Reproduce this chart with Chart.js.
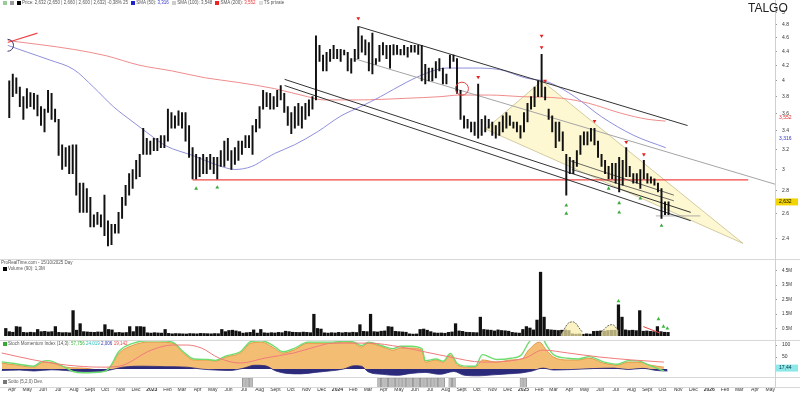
<!DOCTYPE html>
<html>
<head>
<meta charset="utf-8">
<script src="https://cdn.jsdelivr.net/npm/chart.js@4.4.1/dist/chart.umd.min.js"></script>
<style>
    html, body { margin: 0; padding: 0; background: #fff; }
    body { width: 800px; height: 394px; position: relative; overflow: hidden; font-family: "Liberation Sans", Arial, sans-serif; }
    .box { position: absolute; left: 0; width: 800px; }
    .txt { position: absolute; left: 1px; font-size: 4.5px; line-height: 6px; color: #555; white-space: nowrap; }
    .sq { display: inline-block; width: 4px; height: 4px; margin: 0 1px 0 2px; vertical-align: -0.5px; }
    .hl { position: absolute; left: 0; width: 800px; height: 1px; background: #d8d8d8; }
    .vl { position: absolute; left: 775px; top: 0; width: 1px; height: 388px; background: #d0d0d0; }
    #title { position: absolute; left: 748px; top: 1px; font-size: 12px; color: #222; }
</style>
</head>
<body>
<div class="box" style="top:0;height:258px"><canvas id="priceChart"></canvas></div>
<div class="box" style="top:260px;height:80px"><canvas id="volChart"></canvas></div>
<div class="box" style="top:340px;height:37px"><canvas id="oscChart"></canvas></div>
<div class="box" style="top:377px;height:17px"><canvas id="stripChart"></canvas></div>

<div class="hl" style="top:259px"></div>
<div class="hl" style="top:340px"></div>
<div class="hl" style="top:377px"></div>
<div class="hl" style="top:387px"></div>
<div class="vl"></div>

<div class="txt" style="top:0px"><span class="sq" style="background:#9c9"></span><span class="sq" style="background:#999"></span><span class="sq" style="background:#000"></span>Price: 2,632 (2,650 | 2,660 | 2,600 | 2,632) -0,38% 25 <span class="sq" style="background:#22c"></span>SMA (50): <span style="color:#33c">3,316</span> <span class="sq" style="background:#ccc"></span>SMA (100): 3,548 <span class="sq" style="background:#e22"></span>SMA (200): <span style="color:#e33">3,552</span> <span class="sq" style="background:#ddd"></span>TS private</div>
<div id="title">TALGO</div>
<div class="txt" style="top:260px">ProRealTime.com - 15/10/2025 Day</div>
<div class="txt" style="top:266px"><span class="sq" style="background:#000"></span>Volume (90): 1,3M</div>
<div class="txt" style="top:341px"><span class="sq" style="background:#3a3"></span>Stoch Momentum Index (14,3): <span style="color:#3b3">57,756</span> <span style="color:#2bb">24,019</span> <span style="color:#33a">2,006</span> <span style="color:#e44">19,142</span></div>
<div class="txt" style="top:379px"><span class="sq" style="background:#777"></span>Sotto (5,2,0) Dev.</div>

<script>
(function () {
    // weekly bars, first week starts 12 Mar 2022
    const firstWeek = new Date(2022, 2, 12);
    const monthNames = ['Jan', 'Feb', 'Mar', 'Apr', 'May', 'Jun', 'Jul', 'Aug', 'Sept', 'Oct', 'Nov', 'Dec'];
    const labelYears = [2022, 2023, 2024, 2025, 2026];

    const barHigh = [
        4.00, 4.09, 4.04, 3.92, 3.80, 3.90, 3.85, 3.84, 3.82, 3.68,
        3.65, 3.88, 3.84, 3.65, 3.53, 3.25, 3.22, 3.24, 3.25, 3.25,
        2.87, 2.87, 2.82, 2.74, 2.59, 2.61, 2.59, 2.76, 2.54, 2.51,
        2.51, 2.61, 2.74, 2.85, 2.96, 3.00, 3.09, 3.15, 3.43, 3.32,
        3.29, 3.32, 3.32, 3.35, 3.35, 3.65, 3.61, 3.57, 3.63, 3.61,
        3.61, 3.46, 3.22, 3.15, 3.12, 3.15, 3.12, 3.15, 3.12, 3.12,
        3.19, 3.29, 3.32, 3.19, 3.22, 3.29, 3.29, 3.35, 3.35, 3.46,
        3.53, 3.68, 3.88, 3.85, 3.84, 3.80, 3.88, 3.94, 3.84, 3.68,
        3.61, 3.68, 3.72, 3.68, 3.72, 3.76, 3.80, 4.63, 4.49, 4.35,
        4.39, 4.43, 4.49, 4.43, 4.43, 4.42, 4.39, 4.30, 4.43, 4.77,
        4.63, 4.57, 4.53, 4.67, 4.30, 4.49, 4.53, 4.49, 4.49, 4.50,
        4.49, 4.43, 4.49, 4.46, 4.49, 4.49, 4.49, 4.49, 4.22, 4.17,
        4.17, 4.26, 4.30, 4.17, 4.09, 4.35, 4.35, 4.30, 3.88, 3.57,
        3.53, 3.50, 3.50, 3.96, 3.53, 3.57, 3.53, 3.50, 3.46, 3.50,
        3.57, 3.61, 3.57, 3.50, 3.50, 3.46, 3.61, 3.72, 3.80, 3.92,
        4.00, 4.36, 3.92, 3.65, 3.57, 3.50, 3.50, 3.39, 3.15, 3.12,
        3.09, 3.19, 3.35, 3.39, 3.39, 3.43, 3.43, 3.29, 3.15, 3.09,
        3.03, 3.06, 3.06, 3.12, 3.09, 3.22, 3.03, 2.96, 2.96, 3.00,
        3.09, 2.96, 2.93, 2.91, 2.87, 2.82, 2.70, 2.70
    ];
    const barLow = [
        3.55, 3.80, 3.84, 3.68, 3.53, 3.66, 3.68, 3.65, 3.57, 3.46,
        3.39, 3.61, 3.53, 3.50, 3.14, 3.00, 3.03, 2.96, 2.96, 2.76,
        2.61, 2.61, 2.61, 2.49, 2.49, 2.51, 2.49, 2.42, 2.34, 2.35,
        2.44, 2.44, 2.56, 2.67, 2.76, 2.82, 2.91, 2.93, 3.15, 3.15,
        3.15, 3.19, 3.19, 3.22, 3.22, 3.29, 3.43, 3.43, 3.46, 3.43,
        3.29, 3.12, 2.91, 2.91, 2.93, 2.96, 2.96, 3.00, 2.96, 2.91,
        3.03, 3.03, 3.09, 3.00, 3.05, 3.09, 3.15, 3.22, 3.22, 3.15,
        3.39, 3.43, 3.65, 3.68, 3.65, 3.65, 3.68, 3.76, 3.61, 3.46,
        3.37, 3.43, 3.46, 3.43, 3.53, 3.57, 3.65, 3.76, 4.26, 4.13,
        4.13, 4.26, 4.30, 4.30, 4.26, 4.35, 4.13, 4.10, 4.26, 4.30,
        4.39, 4.35, 4.13, 4.09, 4.22, 4.26, 4.35, 4.30, 4.17, 4.35,
        4.36, 4.35, 4.35, 4.32, 4.39, 4.39, 4.36, 4.00, 3.96, 4.00,
        4.00, 4.04, 4.13, 3.96, 3.96, 4.17, 4.26, 3.84, 3.53, 3.43,
        3.43, 3.39, 3.35, 3.32, 3.35, 3.39, 3.43, 3.35, 3.32, 3.35,
        3.39, 3.43, 3.46, 3.43, 3.39, 3.32, 3.39, 3.50, 3.65, 3.68,
        3.80, 3.80, 3.76, 3.53, 3.39, 3.22, 3.29, 3.19, 2.76, 2.96,
        2.96, 3.03, 3.15, 3.25, 3.25, 3.29, 3.25, 3.12, 3.03, 2.96,
        2.91, 2.91, 2.87, 2.79, 2.85, 2.93, 2.93, 2.87, 2.87, 2.82,
        2.91, 2.87, 2.87, 2.85, 2.79, 2.56, 2.59, 2.59
    ];
    // volume in thousands of shares
    const volume = [
        520, 300, 260, 650, 620, 250, 230, 260, 240, 450,
        300, 320, 280, 300, 650, 250, 230, 240, 220, 1750,
        400, 850, 300, 280, 260, 250, 280, 270, 780, 450,
        420, 230, 250, 220, 240, 650, 300, 650, 650, 620,
        220, 200, 230, 210, 200, 450, 180, 150, 170, 160,
        150, 140, 170, 160, 150, 180, 170, 160, 150, 170,
        160, 450, 300, 380, 400, 350, 300, 200, 230, 250,
        420, 200, 450, 220, 200, 230, 210, 250, 230, 330,
        300, 260, 250, 240, 270, 250, 230, 1500, 520, 480,
        220, 200, 230, 210, 250, 220, 250, 230, 260, 240,
        780, 320, 300, 1500, 300, 280, 330, 350, 650, 620,
        320, 300, 280, 260, 150, 130, 140, 450, 480, 400,
        300, 220, 200, 210, 190, 250, 280, 850, 350, 320,
        260, 250, 240, 230, 1300, 450, 420, 400, 350, 420,
        380, 360, 330, 250, 220, 200, 450, 650, 550, 420,
        1100, 4400, 1300, 450, 420, 400, 380, 400, 420, 380,
        150, 130, 140, 120, 150, 130, 320, 330, 350, 340,
        380, 400, 400, 2150, 1300, 420, 380, 400, 370, 1750,
        330, 350, 320, 300, 650, 300, 260, 250
    ];

    // moving averages: [week, price]
    const smaFast = [[-0.5, 4.49], [5.1, 4.39], [11.5, 4.28], [18.3, 4.15], [23.9, 3.92], [29.5, 3.68], [35.1, 3.50], [38.8, 3.39], [44.4, 3.24], [52, 3.14], [59.3, 3.04], [64, 3.00], [68.8, 3.03], [73.3, 3.12], [75.3, 3.16], [80.9, 3.25], [87.4, 3.39], [94.1, 3.57], [99.7, 3.68], [105.3, 3.80], [112.6, 3.98], [118.3, 4.10], [123.9, 4.17], [131.5, 4.17], [139, 4.15], [146.3, 4.04], [153.1, 3.98], [160.4, 3.80], [168, 3.56], [177.2, 3.35], [186.2, 3.22]];
    const smaSlow = [[-0.5, 4.56], [8.7, 4.50], [18.3, 4.43], [27.5, 4.34], [36.8, 4.21], [46.3, 4.13], [55.6, 4.04], [64.9, 3.98], [75.3, 3.90], [84.6, 3.80], [89.3, 3.76], [98.6, 3.76], [112.6, 3.78], [122.2, 3.80], [127.8, 3.82], [136.2, 3.82], [145.5, 3.80], [156.7, 3.78], [164.3, 3.72], [173.6, 3.60], [181.2, 3.53], [186.2, 3.51]];

    // hand drawn studies
    const channelTop = [[99.2, 4.77], [192.4, 3.46]];
    const channelMid = [[97.8, 4.30], [217.2, 2.86]];
    const channelLowA = [[78.1, 4.02], [193.3, 2.61]];
    const channelLowB = [[78.1, 3.94], [193.3, 2.54]];
    const wedgeLineA = [[158.7, 3.09], [188.5, 2.76]];
    const wedgeLineB = [[159.6, 3.00], [188.5, 2.71]];
    const supportLine = [[52, 2.90], [209.6, 2.90]];
    const baseLine = [[183.4, 2.58], [196, 2.58]];
    const openLine = [[-0.5, 4.53], [8, 4.67]];
    const wedgeArea = [[135.1, 3.42], [151.1, 4.00], [208.1, 2.36], [135.1, 3.42]];
    const peakMarks = [[99, 4.90], [133, 4.05], [151, 4.63], [151, 4.46], [152, 4.00], [166, 3.51], [175, 3.28], [180, 3.15]];
    const dipMarks = [[53, 2.82], [59, 2.83], [158, 2.67], [158, 2.60], [170, 2.82], [173, 2.69], [173, 2.61], [179, 2.73], [185, 2.50]];
    const blueRing = [[-0.5, 4.49]];
    const redRing = [[128.4, 3.90]];

    const priceTicks = [5, 4.8, 4.6, 4.4, 4.2, 4, 3.8, 3.6, 3.4, 3.2, 3, 2.8, 2.6, 2.4];
    const priceTagValues = [3.55, 3.32, 2.70];
    const priceTagTexts = ['3,552', '3,316', '2,632'];

    const volTicks = [500, 1000, 1500, 2000, 2500, 3000, 3500, 4000, 4500];
    const volArcA = [[156.7, 130], [159.8, 975], [162.9, 260]];
    const volArcB = [[168, 260], [171, 780], [173, 390]];
    const volTrend = [[180, 650], [184.8, 195]];
    const volMarks = [[173, 2400], [184.3, 1170], [185.7, 650], [186.8, 520]];

    // oscillator panel: [week, value]
    const oscMain = [[0, 25], [4, 17], [9, 8], [11, 25], [13, 29], [18, 8], [23, 4], [28, -4], [30, 4], [33, 67], [37, 100], [41, 112], [44, 112], [48, 108], [51, 67], [54, 38], [58, 38], [60, 33], [63, 50], [67, 67], [70, 108], [73, 112], [76, 92], [79, 67], [82, 79], [86, 108], [88, 108], [93, 108], [96, 112], [99, 108], [101, 92], [103, 108], [107, 92], [110, 79], [112, 88], [115, 88], [118, 79], [119, 29], [122, 38], [124, 29], [126, 58], [128, 17], [131, 8], [133, 8], [135, 38], [139, 29], [143, 38], [146, 42], [148, 79], [151, 112], [153, 79], [155, 50], [159, 38], [162, 38], [165, 46], [169, 25], [173, 17], [176, 29], [179, 29], [182, 17], [186, 8]];
    const oscFast = [[0, 30], [4, 22], [9, 12], [11, 30], [13, 35], [18, 5], [20, -10], [23, -15], [28, -12], [30, 0], [33, 75], [37, 108], [41, 118], [44, 118], [48, 112], [51, 72], [54, 42], [58, 40], [60, 36], [63, 55], [67, 72], [70, 115], [73, 118], [76, 100], [79, 72], [82, 85], [86, 112], [88, 112], [93, 112], [96, 116], [99, 112], [101, 98], [103, 112], [107, 96], [110, 85], [112, 95], [115, 95], [118, 85], [119, 35], [122, 42], [124, 33], [126, 65], [128, 22], [131, 12], [133, 12], [135, 60], [139, 40], [143, 45], [146, 60], [148, 110], [151, 150], [153, 100], [155, 60], [159, 45], [162, 42], [165, 52], [169, 30], [173, 20], [176, 35], [179, 33], [182, 15], [186, -8]];
    const oscSignal = [[0, 67], [9, 38], [18, 17], [28, 8], [33, 12], [42, 79], [48, 100], [52, 100], [56, 88], [61, 46], [67, 25], [74, 46], [82, 67], [88, 92], [93, 108], [103, 108], [112, 92], [119, 71], [126, 50], [135, 29], [147, 46], [152, 79], [159, 67], [168, 50], [177, 38], [186, 29]];
    const oscHist = [[0, -6], [5, -4], [9, -8], [14, -3], [18, -6], [22, -10], [28, -10], [31, -2], [34, 8], [40, 12], [46, 10], [52, 8], [56, 0], [60, -4], [64, -6], [68, 4], [71, 16], [74, 14], [77, -8], [80, -18], [84, -20], [88, -14], [92, -8], [96, 0], [99, 14], [101, 12], [103, -12], [107, -22], [111, -26], [115, -18], [119, -14], [123, -22], [127, -10], [130, -26], [134, -28], [138, -24], [142, -20], [146, -16], [149, -8], [152, 4], [155, -4], [160, -2], [166, 2], [172, 4], [176, -2], [180, 3], [184, -6], [187, -8]];
    const oscTicks = [100, 50];

    const signalWeeks = [68, 69, 70, 106, 107, 108, 109, 110, 111, 112, 113, 114, 115, 116, 117, 118, 119, 120, 121, 122, 123, 124, 126, 127, 146, 147];

    // ---------------------------------------------------------------
    Chart.defaults.font.family = '"Liberation Sans", Arial, sans-serif';
    Chart.defaults.animation = false;

    const xMin = -0.5, xMax = 217.2;
    const weeks = barHigh.map((_, i) => i);
    const pts = arr => arr.map(([x, y]) => ({ x, y }));

    const monthTicks = [];
    labelYears.forEach(yr => {
        monthNames.forEach((name, m) => {
            const w = (new Date(yr, m, 1) - firstWeek) / (7 * 86400000);
            if (w < 1 || w > xMax - 1) return;
            monthTicks.push({ value: w, label: m === 0 ? String(yr) : name });
        });
    });

    function hiddenX() {
        return { type: 'linear', min: xMin, max: xMax, offset: false, display: false };
    }

    function rightAxis(extra) {
        return Object.assign({
            position: 'right',
            afterFit: s => { s.width = 25; s.paddingTop = 0; s.paddingBottom = 0; },
            grid: { drawOnChartArea: false, tickLength: 2, color: '#999' },
            border: { color: '#ccc' },
            ticks: { font: { size: 5 }, color: '#333', padding: 5 }
        }, extra);
    }

    function seg(data, color, width, extra) {
        return Object.assign({
            type: 'line', data: pts(data), borderColor: color, borderWidth: width,
            pointRadius: 0, fill: false, tension: 0, order: 2
        }, extra);
    }

    function marks(data, color, rotation, radius) {
        return {
            type: 'line', data: pts(data), showLine: false, pointStyle: 'triangle',
            rotation: rotation, pointRadius: radius, backgroundColor: color, borderColor: color,
            borderWidth: 0, order: 0
        };
    }

    const tagPlugin = {
        id: 'tags',
        afterDraw(chart, args, opts) {
            if (!opts.values) return;
            const y = chart.scales.y, ctx = chart.ctx;
            ctx.save();
            ctx.font = '5px "Liberation Sans", Arial, sans-serif';
            ctx.textBaseline = 'middle';
            opts.values.forEach((v, i) => {
                const py = y.getPixelForValue(v);
                const st = opts.styles[i];
                if (st.bg) {
                    ctx.fillStyle = st.bg;
                    ctx.fillRect(y.left + 1, py - 3.5, 22, 7);
                }
                ctx.fillStyle = st.color;
                ctx.fillText(opts.texts[i], y.left + 4, py);
            });
            ctx.restore();
        }
    };
    Chart.register(tagPlugin);

    const baseOpts = {
        responsive: true,
        maintainAspectRatio: false,
        events: [],
        plugins: { legend: { display: false }, tooltip: { enabled: false } }
    };

    // 1. Price panel
    new Chart(document.getElementById('priceChart'), {
        type: 'bar',
        data: {
            datasets: [
                { type: 'bar', data: weeks.map(i => ({ x: i, y: [barLow[i], barHigh[i]] })), backgroundColor: '#111', barThickness: 1.3, order: 1 },
                seg(wedgeArea, 'rgba(185,175,120,0.8)', 0.8, { fill: 'shape', backgroundColor: 'rgba(252,244,180,0.6)', order: 9 }),
                seg(smaFast, '#8f8fdb', 1, { cubicInterpolationMode: 'monotone', order: 3 }),
                seg(smaSlow, '#f08c8c', 1, { cubicInterpolationMode: 'monotone', order: 3 }),
                seg(channelTop, '#333', 1),
                seg(channelMid, '#a5a5a5', 1),
                seg(channelLowA, '#333', 1),
                seg(channelLowB, '#333', 1),
                seg(wedgeLineA, '#444', 0.8),
                seg(wedgeLineB, '#444', 0.8),
                seg(supportLine, '#f04545', 1.2),
                seg(baseLine, '#999', 0.8),
                seg(openLine, '#f04545', 1.2),
                marks(peakMarks, '#e52222', 180, 2.2),
                marks(dipMarks, '#3aa83a', 0, 2.2),
                { type: 'line', data: pts(blueRing), showLine: false, pointRadius: 6, pointStyle: 'circle', backgroundColor: 'rgba(0,0,0,0)', borderColor: '#3a3a6a', borderWidth: 1, order: 0 },
                { type: 'line', data: pts(redRing), showLine: false, pointRadius: 6.5, pointStyle: 'circle', backgroundColor: 'rgba(0,0,0,0)', borderColor: '#e04545', borderWidth: 1, order: 0 }
            ]
        },
        options: Object.assign({}, baseOpts, {
            layout: { padding: { top: 3, bottom: 0, left: 0, right: 0 } },
            plugins: Object.assign({}, baseOpts.plugins, {
                tags: {
                    values: priceTagValues,
                    texts: priceTagTexts,
                    styles: [{ color: '#e03030' }, { color: '#3333c0' }, { color: '#000', bg: '#f2d400' }]
                }
            }),
            scales: {
                x: hiddenX(),
                y: rightAxis({
                    type: 'logarithmic', min: 2.306, max: 5.076,
                    afterBuildTicks: s => { s.ticks = priceTicks.map(v => ({ value: v })); },
                    ticks: { font: { size: 5 }, color: '#333', padding: 5, callback: v => String(Number(v.toFixed(1))) }
                })
            }
        })
    });

    // 2. Volume panel
    new Chart(document.getElementById('volChart'), {
        type: 'bar',
        data: {
            datasets: [
                { type: 'bar', data: weeks.map(i => ({ x: i, y: volume[i] })), backgroundColor: '#111', barThickness: 2.6, order: 2 },
                seg(volArcA, '#444', 0.8, { tension: 0.5, fill: 'origin', backgroundColor: 'rgba(250,236,170,0.7)', borderDash: [2, 1], order: 1 }),
                seg(volArcB, '#444', 0.8, { tension: 0.5, fill: 'origin', backgroundColor: 'rgba(250,236,170,0.7)', borderDash: [2, 1], order: 1 }),
                seg(volTrend, '#e84040', 1, { order: 1 }),
                marks(volMarks, '#3ab83a', 0, 2.2)
            ]
        },
        options: Object.assign({}, baseOpts, {
            layout: { padding: { top: 10, bottom: 0, left: 0, right: 0 } },
            scales: {
                x: hiddenX(),
                y: rightAxis({
                    type: 'linear', min: 0, max: 4550,
                    afterBuildTicks: s => { s.ticks = volTicks.map(v => ({ value: v })); },
                    ticks: { font: { size: 4.5 }, color: '#333', padding: 5, callback: v => (v / 1000).toFixed(1) + 'M' }
                })
            }
        })
    });

    // 3. Oscillator panel
    new Chart(document.getElementById('oscChart'), {
        type: 'line',
        data: {
            datasets: [
                seg(oscMain, '#d98a2b', 0.8, { fill: 'origin', backgroundColor: 'rgba(242,178,92,0.85)', cubicInterpolationMode: 'monotone', order: 4 }),
                seg(oscHist, '#2c2a7a', 0.8, { fill: 'origin', backgroundColor: '#2c2a7a', cubicInterpolationMode: 'monotone', order: 3 }),
                seg(oscFast, '#6fdc6f', 1.4, { cubicInterpolationMode: 'monotone', order: 2 }),
                seg(oscSignal, '#f07a7a', 1, { cubicInterpolationMode: 'monotone', order: 1 })
            ]
        },
        options: Object.assign({}, baseOpts, {
            layout: { padding: 0 },
            plugins: Object.assign({}, baseOpts.plugins, {
                tags: { values: [4], texts: ['17,44'], styles: [{ color: '#034', bg: '#8ee8e8' }] }
            }),
            scales: {
                x: hiddenX(),
                y: rightAxis({
                    type: 'linear', min: -33, max: 121,
                    afterBuildTicks: s => { s.ticks = oscTicks.map(v => ({ value: v })); }
                })
            }
        })
    });

    // 4. Signal strip + date axis
    new Chart(document.getElementById('stripChart'), {
        type: 'bar',
        data: {
            datasets: [{
                data: signalWeeks.map(w => ({ x: w, y: 1 })),
                backgroundColor: '#bdbdbd', borderColor: '#7a7a7a', borderWidth: 0.5, barThickness: 3
            }]
        },
        options: Object.assign({}, baseOpts, {
            layout: { padding: { top: 1, bottom: 0, left: 0, right: 25 } },
            scales: {
                x: {
                    type: 'linear', min: xMin, max: xMax, offset: false,
                    afterBuildTicks: s => { s.ticks = monthTicks.map(t => ({ value: t.value })); },
                    afterFit: s => { s.height = 7; s.paddingLeft = 0; s.paddingRight = 0; },
                    grid: { display: false, drawTicks: false, tickLength: 0 },
                    border: { display: false },
                    ticks: {
                        autoSkip: false, maxRotation: 0, padding: 0, color: '#333',
                        font: ctx => ({ size: 5, weight: (ctx.tick && /^\d{4}$/.test(ctx.tick.label)) ? 'bold' : 'normal' }),
                        callback: (v, i) => monthTicks[i] ? monthTicks[i].label : ''
                    }
                },
                y: { display: false, min: 0, max: 1 }
            }
        })
    });
})();
</script>
</body>
</html>
